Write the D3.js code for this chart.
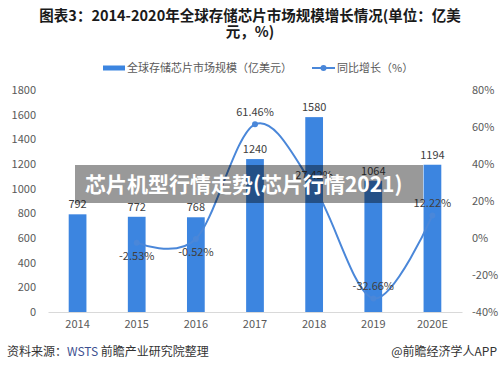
<!DOCTYPE html>
<html>
<head>
<meta charset="utf-8">
<script src="https://cdn.jsdelivr.net/npm/d3@7/dist/d3.min.js"></script>
<style>
  body { margin: 0; background: #fff; }
  svg { display: block; font-family: "Noto Sans CJK SC", "Noto Sans", sans-serif; }
</style>
</head>
<body>
<svg class="chart"></svg>
<script>
// data
const years = ['2014', '2015', '2016', '2017', '2018', '2019', '2020E']
const marketSize = [792, 772, 768, 1240, 1580, 1064, 1194]        // 亿美元
const growth = [null, -2.53, -0.52, 61.46, 27.42, -32.66, 12.22]  // %
const leftTicks = [0, 200, 400, 600, 800, 1000, 1200, 1400, 1600, 1800]
const rightTicks = [-40, -20, 0, 20, 40, 60, 80]

const W = 500, H = 370
const plot = { left: 48, right: 462, top: 90, bottom: 312 }
const barColor = '#3c85e0'
const lineColor = '#4a87d9'
const textColor = '#595959'

const svg = d3.select('.chart')
    .attr('width', W)
    .attr('height', H)

// scales
const x = d3.scaleBand()
  .domain(years)
  .range([plot.left, plot.right])
  .paddingInner(0.7)
  .paddingOuter(0.35)
const yL = d3.scaleLinear()
  .domain([0, 1800])
  .range([plot.bottom, plot.top])
const yR = d3.scaleLinear()
  .domain([-40, 80])
  .range([plot.bottom, plot.top])

// Title
// =====
svg.append('g')
    .attr('font-weight', 'bold')
    .attr('font-size', 14.5)
    .attr('fill', '#1a1a1a')
    .attr('text-anchor', 'middle')
  .selectAll('text')
    .data(['图表3：2014-2020年全球存储芯片市场规模增长情况(单位：亿美', '元，%)'])
  .enter().append('text')
    .attr('x', 250)
    .attr('y', (d, i) => 21 + i * 16)
    .text(d => d)

// Legend
// ======
const legend = svg.append('g')
    .attr('font-size', 11)
    .attr('fill', textColor)
legend.append('rect')
    .attr('x', 103).attr('y', 65.5)
    .attr('width', 22).attr('height', 5)
    .attr('fill', barColor)
legend.append('text')
    .attr('x', 127).attr('y', 72)
    .text('全球存储芯片市场规模（亿美元）')
legend.append('line')
    .attr('x1', 312).attr('x2', 335)
    .attr('y1', 68).attr('y2', 68)
    .attr('stroke', lineColor).attr('stroke-width', 2)
legend.append('circle')
    .attr('cx', 323.5).attr('cy', 68).attr('r', 3)
    .attr('fill', lineColor)
legend.append('text')
    .attr('x', 337).attr('y', 72)
    .text('同比增长（%）')

// Axes
// ====
const styleAxis = g => {
  g.selectAll('text').attr('fill', textColor).attr('font-size', 11)
  g.attr('font-family', null)
}

svg.append('g')
    .attr('transform', `translate(38, 0)`)
    .call(d3.axisLeft(yL).tickValues(leftTicks).tickSize(0).tickPadding(2)
      .tickFormat(d3.format('d')))
    .call(g => g.select('.domain').remove())
    .call(styleAxis)

svg.append('g')
    .attr('transform', `translate(471, 0)`)
    .call(d3.axisRight(yR).tickValues(rightTicks).tickSize(0).tickPadding(1)
      .tickFormat(d => d + '%'))
    .call(g => g.select('.domain').remove())
    .call(styleAxis)

svg.append('g')
    .attr('transform', `translate(0, ${plot.bottom})`)
    .call(d3.axisBottom(x).tickSize(0).tickPadding(8).tickSizeOuter(0))
    .call(g => g.select('.domain').attr('stroke', '#d9d9d9'))
    .call(styleAxis)

// Bars
// ====
svg.append('g')
  .selectAll('rect')
    .data(marketSize)
  .enter().append('rect')
    .attr('x', (d, i) => x(years[i]))
    .attr('y', d => yL(d))
    .attr('width', x.bandwidth())
    .attr('height', d => yL(0) - yL(d))
    .attr('fill', barColor)

svg.append('g')
    .attr('font-size', 11)
    .attr('fill', '#404040')
    .attr('text-anchor', 'middle')
  .selectAll('text')
    .data(marketSize)
  .enter().append('text')
    .attr('x', (d, i) => x(years[i]) + x.bandwidth() / 2)
    .attr('y', d => yL(d) - 6)
    .text(d => d)

// Growth line
// ===========
const pts = growth
  .map((g, i) => ({ year: years[i], g }))
  .filter(d => d.g !== null)

const line = d3.line()
  .x(d => x(d.year) + x.bandwidth() / 2)
  .y(d => yR(d.g))
  .curve(d3.curveCardinal.tension(0))

svg.append('path')
    .datum(pts)
    .attr('d', line)
    .attr('fill', 'none')
    .attr('stroke', lineColor)
    .attr('stroke-width', 2)

svg.append('g')
  .selectAll('circle')
    .data(pts)
  .enter().append('circle')
    .attr('cx', d => x(d.year) + x.bandwidth() / 2)
    .attr('cy', d => yR(d.g))
    .attr('r', 3)
    .attr('fill', lineColor)

// small declines are labelled under the point, the rest above
svg.append('g')
    .attr('font-size', 11)
    .attr('fill', '#404040')
    .attr('text-anchor', 'middle')
  .selectAll('text')
    .data(pts)
  .enter().append('text')
    .attr('x', d => x(d.year) + x.bandwidth() / 2)
    .attr('y', d => yR(d.g) + (d.g < 0 && d.g > -10 ? 17 : -8))
    .text(d => d.g.toFixed(2) + '%')

// Banner overlay
// ==============
svg.append('rect')
    .attr('x', 75).attr('y', 165)
    .attr('width', 348).attr('height', 38)
    .attr('fill', '#000')
    .attr('fill-opacity', 0.4)
svg.append('text')
    .attr('x', 85).attr('y', 192)
    .attr('font-size', 21)
    .attr('font-weight', 'bold')
    .attr('fill', '#fff')
    .text('芯片机型行情走势(芯片行情2021)')

// Footer
// ======
const foot = svg.append('text')
    .attr('x', 7).attr('y', 356)
    .attr('font-size', 12)
    .attr('fill', '#333')
foot.append('tspan').text('资料来源：')
foot.append('tspan').attr('fill', '#3d4f8f').text('WSTS ')
foot.append('tspan').text('前瞻产业研究院整理')

svg.append('text')
    .attr('x', 497).attr('y', 356)
    .attr('font-size', 12)
    .attr('fill', '#333')
    .attr('text-anchor', 'end')
    .text('@前瞻经济学人APP')
</script>
</body>
</html>
